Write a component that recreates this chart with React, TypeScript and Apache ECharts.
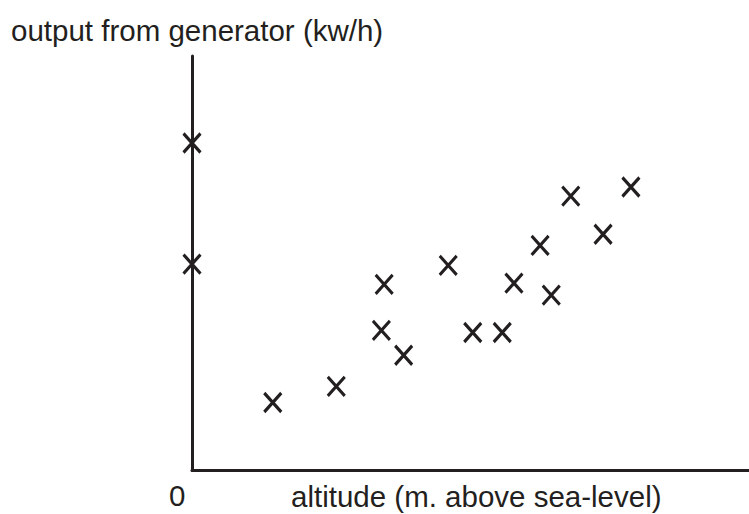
import React, { useEffect, useRef } from "react";
import * as echarts from "echarts";

const altitude = [0, 0, 14.5, 25.9, 34.0, 34.5, 38.0, 46.0, 50.4, 55.7, 57.8, 62.5, 64.5, 68.0, 73.8, 78.8];
const output = [79.0, 49.8, 16.4, 20.3, 33.8, 44.9, 27.8, 49.5, 33.3, 33.3, 45.2, 54.3, 42.3, 66.2, 57.0, 68.4];

const yTitle = "output from generator (kw/h)";
const xTitle = "altitude (m. above sea-level)";
const originLabel = "0";

const INK = "#231f20";
const FONT = "'Liberation Sans', Arial, Helvetica, sans-serif";

export default function App() {
  const ref = useRef<HTMLDivElement>(null);
  useEffect(() => {
    if (!ref.current) return;
    const chart = echarts.init(ref.current, null, { renderer: "svg" });
    const data = altitude.map((a, i) => [a, output[i]]);
    chart.setOption({
      animation: false,
      backgroundColor: "#ffffff",
      grid: { left: 192, right: 0, top: 56, bottom: 43.5, containLabel: false },
      xAxis: {
        type: "value",
        min: 0,
        max: 100,
        axisLine: { show: true, lineStyle: { color: INK, width: 3 } },
        axisTick: { show: false },
        axisLabel: { show: false },
        splitLine: { show: false },
      },
      yAxis: {
        type: "value",
        min: 0,
        max: 100,
        axisLine: { show: true, lineStyle: { color: INK, width: 3 } },
        axisTick: { show: false },
        axisLabel: { show: false },
        splitLine: { show: false },
      },
      series: [
        {
          type: "scatter",
          data,
          clip: false,
          symbol: "path://M0 0L18 20M18 0L0 20",
          symbolSize: [17, 19],
          itemStyle: { color: "none", borderColor: INK, borderWidth: 3.2, opacity: 1 },
          z: 5,
        },
      ],
      graphic: [
        {
          type: "text",
          left: 11,
          top: 15,
          style: { text: yTitle, fontSize: 29.5, fontFamily: FONT, fill: INK },
        },
        {
          type: "text",
          left: 169,
          top: 480,
          style: { text: originLabel, fontSize: 29.5, fontFamily: FONT, fill: INK },
        },
        {
          type: "text",
          left: 291,
          top: 481,
          style: { text: xTitle, fontSize: 29.5, fontFamily: FONT, fill: INK },
        },
      ],
    });
    return () => chart.dispose();
  }, []);
  return (
    <div
      ref={ref}
      style={{ position: "fixed", left: 0, top: 0, width: 749, height: 514 }}
    />
  );
}
